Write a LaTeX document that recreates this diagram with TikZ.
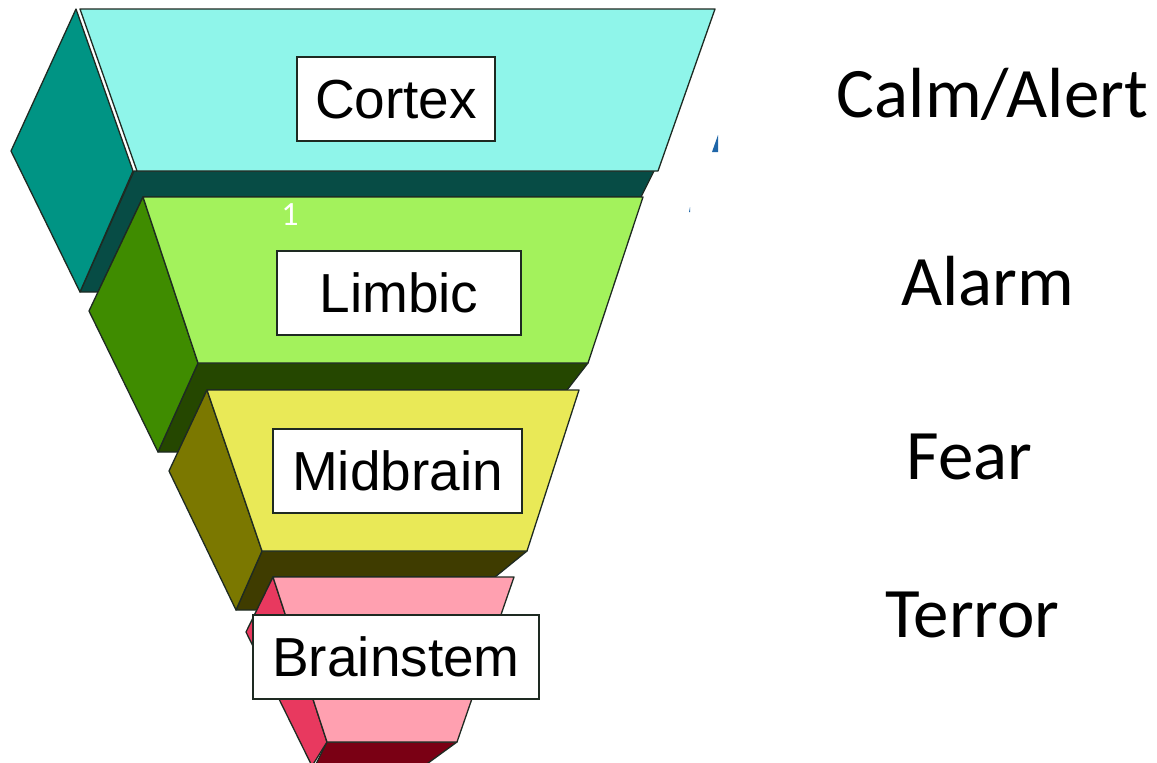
\documentclass[tikz,border=0pt]{standalone}
\usepackage{fontspec}
\setmainfont{Liberation Sans}
\newfontfamily\statefont{Carlito}
\definecolor{cortexfront}{HTML}{8FF5EA}
\definecolor{cortexside}{HTML}{009484}
\definecolor{cortexbase}{HTML}{074C45}
\definecolor{limbicfront}{HTML}{A3F25C}
\definecolor{limbicside}{HTML}{3F8C00}
\definecolor{limbicbase}{HTML}{254700}
\definecolor{midfront}{HTML}{E9E957}
\definecolor{midside}{HTML}{7B7800}
\definecolor{midbase}{HTML}{3F3C00}
\definecolor{stemfront}{HTML}{FFA0B0}
\definecolor{stemside}{HTML}{E8395F}
\definecolor{stembase}{HTML}{7A0014}
\definecolor{edgecol}{HTML}{1E2A22}
\definecolor{scrapblue}{HTML}{1F66A8}
\tikzset{
    face/.style={draw=edgecol, line width=1.3pt, line join=round},
    regionbox/.style={draw=edgecol, fill=white, line width=1.4pt, inner sep=0pt, minimum height=84pt, text height=38pt, text depth=0pt, font=\fontsize{55}{55}\selectfont},
    statetext/.style={anchor=base, inner sep=0pt, font=\statefont\fontsize{71}{71}\selectfont}
}
\begin{document}
\begin{tikzpicture}[x=1pt, y=-1pt]
    \clip (0,0) rectangle (1157,763);

    % Corteccia
    \draw[face, fill=cortexbase] (134,171) -- (654,171) -- (641,197) -- (143,197) -- (98,292) -- (80,292) -- cycle;
    \draw[face, fill=cortexside] (76,9) -- (11,151) -- (80,292) -- (133,171) -- cycle;
    \draw[face, fill=cortexfront] (80,9) -- (715,9) -- (658,171) -- (137,171) -- cycle;

    % Sistema limbico
    \draw[face, fill=limbicbase] (198,363) -- (588,363) -- (567,390) -- (207,390) -- (178,452) -- (158,452) -- cycle;
    \draw[face, fill=limbicside] (143,197) -- (89,311) -- (158,452) -- (198,363) -- cycle;
    \draw[face, fill=limbicfront] (143,197) -- (643,197) -- (588,363) -- (198,363) -- cycle;

    % Mesencefalo
    \draw[face, fill=midbase] (262,551) -- (527,551) -- (495,577) -- (273,577) -- (257,610) -- (236,610) -- cycle;
    \draw[face, fill=midside] (207,390) -- (169,471) -- (236,610) -- (262,551) -- cycle;
    \draw[face, fill=midfront] (207,390) -- (579,390) -- (527,551) -- (262,551) -- cycle;

    % Tronco encefalico
    \draw[face, fill=stembase] (327,742) -- (457,742) -- (424,766) -- (315,766) -- cycle;
    \draw[face, fill=stemside] (273,577) -- (246,632) -- (312,766) -- (327,742) -- cycle;
    \draw[face, fill=stemfront] (273,577) -- (514,577) -- (457,742) -- (327,742) -- cycle;

    % Residui blu sul bordo
    \fill[scrapblue] (712,152) -- (718,135) -- (718,152) -- cycle;
    \fill[scrapblue] (689,212) -- (690,207) -- (690,212) -- cycle;

    % Etichette delle regioni
    \node[regionbox, minimum width=198pt] (cortex) at (396,99) {Cortex};
    \node[regionbox, minimum width=244pt] (limbic) at (399,293) {Limbic};
    \node[regionbox, minimum width=249pt] (midbrain) at (397.5,471) {Midbrain};
    \node[regionbox, minimum width=286pt] (brainstem) at (396,657) {Brainstem};
    \node[text=white, inner sep=0pt, font=\statefont\fontsize{34}{34}\selectfont] (one) at (290,215) {1};

    % Stati a destra
    \node[statetext] (calm) at (992.5,117) {Calm/Alert};
    \node[statetext] (alarm) at (988,305) {Alarm};
    \node[statetext] (fear) at (969.5,479) {Fear};
    \node[statetext] (terror) at (972.5,637) {Terror};
\end{tikzpicture}
\end{document}
